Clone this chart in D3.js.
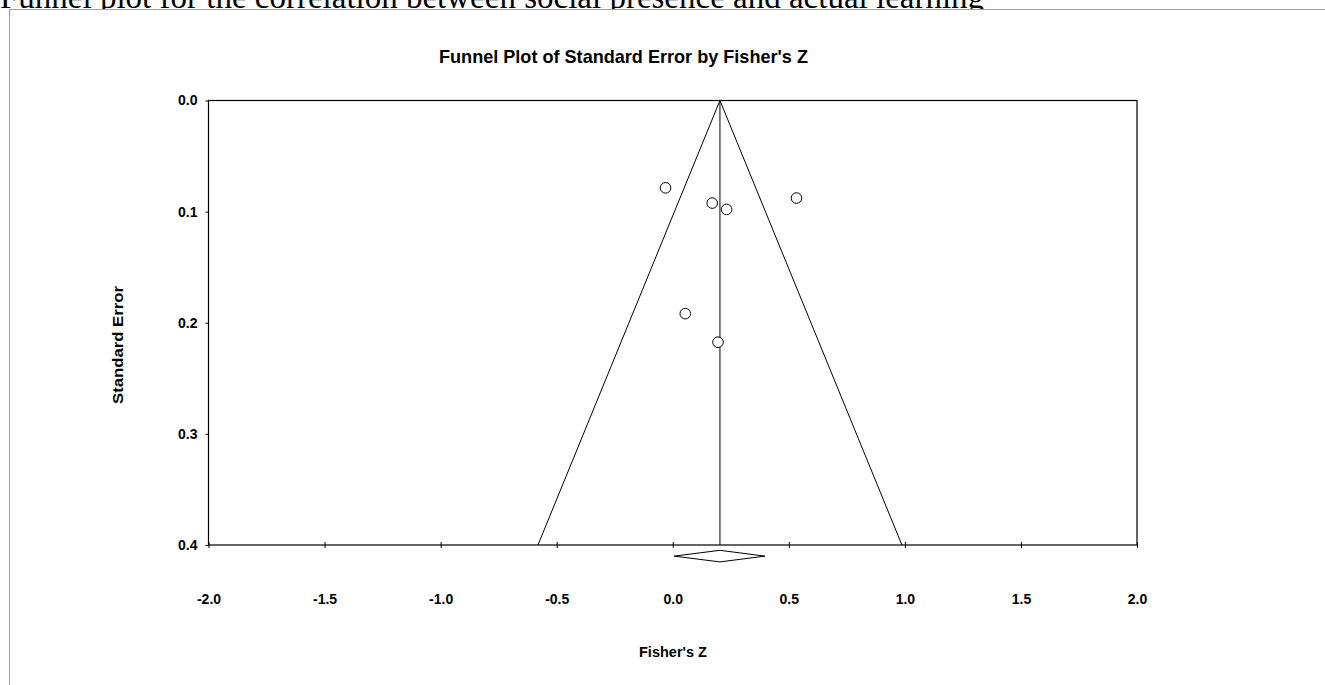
<!DOCTYPE html>
<html>
<head>
<meta charset="utf-8">
<script src="https://cdn.jsdelivr.net/npm/d3@7"></script>
<style>
  body { margin: 0; background: #fff; }
  svg { display: block; }
</style>
</head>
<body>
<div id="chart"></div>
<script>
// funnel plot: standard error vs Fisher's Z

let fisherZ = [-0.031, 0.170, 0.232, 0.533, 0.054, 0.195];
let stdErr = [0.0786, 0.0923, 0.098, 0.0878, 0.1918, 0.2175];
let pooled = 0.2033;
let ciLow = 0.006, ciHigh = 0.397;
let xTicks = [-2.0, -1.5, -1.0, -0.5, 0.0, 0.5, 1.0, 1.5, 2.0];
let yTicks = [0.0, 0.1, 0.2, 0.3, 0.4];

let svgAttr = {width: 1325, height: 685};
let box = {left: 208.5, top: 100.5, right: 1137, bottom: 545};

let svg = d3.select('#chart').append('svg').attr('width', svgAttr.width).attr('height', svgAttr.height);

// caption text above the frame (cut at the top)
svg.append('text').attr('x', 0).attr('y', 8)
  .attr('font-family', '"Liberation Serif", "Times New Roman", serif').attr('font-size', '33px')
  .attr('fill', '#000')
  .text('Funnel plot for the correlation between social presence and actual learning');

// grey frame, drawn over the caption's descenders like a pasted image
svg.append('rect').attr('x', 9.5).attr('y', 9.5)
  .attr('width', svgAttr.width).attr('height', svgAttr.height)
  .attr('fill', '#fff').attr('stroke', '#a0a0a0').attr('stroke-width', 1);

let xScale = d3.scaleLinear().domain([-2, 2]).range([box.left, box.right]);
let yScale = d3.scaleLinear().domain([0, 0.4]).range([box.top, box.bottom]);

let font = 'Arial, "Liberation Sans", Helvetica, sans-serif';
let fmt = d => d.toFixed(1);

// title
svg.append('text').attr('x', 623.5).attr('y', 62.5).attr('text-anchor', 'middle')
  .attr('font-family', font).attr('font-weight', 'bold').attr('font-size', '18.5px')
  .attr('textLength', 369).attr('lengthAdjust', 'spacingAndGlyphs')
  .text("Funnel Plot of Standard Error by Fisher's Z");

// plot box
svg.append('rect').attr('x', box.left).attr('y', box.top)
  .attr('width', box.right - box.left).attr('height', box.bottom - box.top)
  .attr('fill', 'none').attr('stroke', '#000').attr('stroke-width', 1.2);

// x axis ticks & labels
let xAxis = d3.axisBottom(xScale).tickValues(xTicks).tickFormat(fmt)
  .tickSizeInner(3).tickSizeOuter(0);
let gx = svg.append('g').attr('transform', 'translate(0,' + box.bottom + ')').call(xAxis);
gx.select('.domain').remove();
gx.selectAll('.tick line').attr('y1', -3).attr('y2', 3).attr('stroke', '#000');
gx.selectAll('.tick text').attr('y', 59).attr('dy', 0)
  .attr('font-family', font).attr('font-weight', 'bold').attr('font-size', '14px').attr('fill', '#000');

// y axis ticks & labels
let yAxis = d3.axisLeft(yScale).tickValues(yTicks).tickFormat(fmt)
  .tickSizeInner(3).tickSizeOuter(0).tickPadding(8);
let gy = svg.append('g').attr('transform', 'translate(' + box.left + ',0)').call(yAxis);
gy.select('.domain').remove();
gy.selectAll('.tick line').attr('stroke', '#000');
gy.selectAll('.tick text').attr('x', -11)
  .attr('font-family', font).attr('font-weight', 'bold').attr('font-size', '14px').attr('fill', '#000');

// axis titles
svg.append('text').attr('x', 673).attr('y', 657).attr('text-anchor', 'middle')
  .attr('font-family', font).attr('font-weight', 'bold').attr('font-size', '15px')
  .attr('textLength', 68).attr('lengthAdjust', 'spacingAndGlyphs')
  .text("Fisher's Z");
svg.append('text').attr('transform', 'translate(123,345) rotate(-90)').attr('text-anchor', 'middle')
  .attr('font-family', font).attr('font-weight', 'bold').attr('font-size', '15.5px')
  .attr('textLength', 118).attr('lengthAdjust', 'spacingAndGlyphs')
  .text('Standard Error');

// funnel lines
let seMax = yScale.domain()[1];
let funnel = [[pooled - 1.96 * seMax, seMax], [pooled, 0], [pooled + 1.96 * seMax, seMax]];
let line = d3.line().x(d => xScale(d[0])).y(d => yScale(d[1]));
svg.append('path').attr('d', line(funnel)).attr('fill', 'none').attr('stroke', '#000').attr('stroke-width', 1);
svg.append('path').attr('d', line([[pooled, 0], [pooled, seMax]])).attr('fill', 'none').attr('stroke', '#000').attr('stroke-width', 1);

// study points
svg.selectAll('.study').data(fisherZ).enter().append('circle')
  .attr('class', 'study')
  .attr('cx', d => xScale(d))
  .attr('cy', (d, i) => yScale(stdErr[i]))
  .attr('r', 5.3)
  .attr('fill', '#fff').attr('stroke', '#000').attr('stroke-width', 1);

// summary diamond
let dy = yScale(0.41);
svg.append('path')
  .attr('d', 'M' + xScale(ciLow) + ',' + dy + 'L' + xScale(pooled) + ',' + (dy - 5.8) +
    'L' + xScale(ciHigh) + ',' + dy + 'L' + xScale(pooled) + ',' + (dy + 5.8) + 'Z')
  .attr('fill', '#fff').attr('stroke', '#000').attr('stroke-width', 1);
</script>
</body>
</html>
